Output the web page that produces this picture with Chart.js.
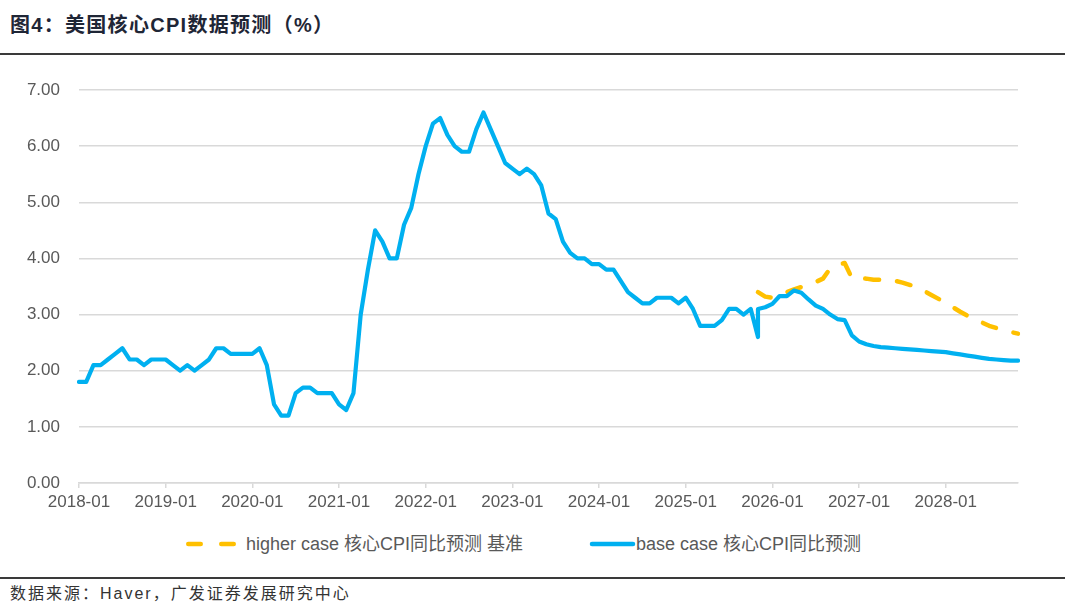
<!DOCTYPE html>
<html>
<head>
<meta charset="utf-8">
<script src="https://cdn.jsdelivr.net/npm/chart.js@4.4.1/dist/chart.umd.min.js"></script>
<style>
  html, body { margin: 0; padding: 0; background: #ffffff; }
  body { width: 1080px; height: 615px; position: relative; overflow: hidden;
         font-family: 'Liberation Sans', Arial, 'Noto Sans CJK SC', sans-serif; }
  #title { position: absolute; left: 10px; top: 13px; font-size: 20px; line-height: 24px; font-weight: bold;
           color: #1f2636; letter-spacing: 1.3px; white-space: nowrap; }
  .rule { position: absolute; left: 0; width: 1065px; height: 1.5px; background: #3a3a3a; }
  #chartBox { position: absolute; left: 0; top: 60px; width: 1080px; height: 460px; }
  .legTxt { position: absolute; top: 535px; font-size: 18px; line-height: 18px; color: #595959; white-space: nowrap; }
  .legSvg { position: absolute; top: 536px; }
  #source { position: absolute; left: 10px; top: 585px; font-size: 16px; line-height: 18px; color: #333333;
            letter-spacing: 2px; white-space: nowrap; }
</style>
</head>
<body>
<div id="title">图4：美国核心CPI数据预测（%）</div>
<div class="rule" style="top:53px"></div>
<div id="chartBox"><canvas id="c"></canvas></div>

<svg class="legSvg" style="left:184px" width="60" height="16">
  <line x1="4.25" y1="8" x2="49.75" y2="8" stroke="#FFC000" stroke-width="4.5" stroke-linecap="round" stroke-dasharray="12.5 20.5"/>
</svg>
<div class="legTxt" style="left:246px">higher case 核心CPI同比预测 基准</div>
<svg class="legSvg" style="left:586px" width="54" height="16">
  <line x1="6" y1="8" x2="47" y2="8" stroke="#00B0F0" stroke-width="4.5" stroke-linecap="round"/>
</svg>
<div class="legTxt" style="left:636px">base case 核心CPI同比预测</div>

<div class="rule" style="top:577px"></div>
<div id="source">数据来源：Haver，广发证券发展研究中心</div>

<script>
// ---- categories (monthly) ----
const months = [
  '2018-01','2018-02','2018-03','2018-04','2018-05','2018-06','2018-07','2018-08','2018-09','2018-10','2018-11','2018-12',
  '2019-01','2019-02','2019-03','2019-04','2019-05','2019-06','2019-07','2019-08','2019-09','2019-10','2019-11','2019-12',
  '2020-01','2020-02','2020-03','2020-04','2020-05','2020-06','2020-07','2020-08','2020-09','2020-10','2020-11','2020-12',
  '2021-01','2021-02','2021-03','2021-04','2021-05','2021-06','2021-07','2021-08','2021-09','2021-10','2021-11','2021-12',
  '2022-01','2022-02','2022-03','2022-04','2022-05','2022-06','2022-07','2022-08','2022-09','2022-10','2022-11','2022-12',
  '2023-01','2023-02','2023-03','2023-04','2023-05','2023-06','2023-07','2023-08','2023-09','2023-10','2023-11','2023-12',
  '2024-01','2024-02','2024-03','2024-04','2024-05','2024-06','2024-07','2024-08','2024-09','2024-10','2024-11','2024-12',
  '2025-01','2025-02','2025-03','2025-04','2025-05','2025-06','2025-07','2025-08','2025-09','2025-10','2025-11','2025-12',
  '2026-01','2026-02','2026-03','2026-04','2026-05','2026-06','2026-07','2026-08','2026-09','2026-10','2026-11','2026-12',
  '2027-01','2027-02','2027-03','2027-04','2027-05','2027-06','2027-07','2027-08','2027-09','2027-10','2027-11','2027-12',
  '2028-01','2028-02','2028-03','2028-04','2028-05','2028-06','2028-07','2028-08','2028-09','2028-10','2028-11'
];

// ---- base case: actual history (2018-01 .. 2025-11) ----
const baseHistory = [
  1.8, 1.8, 2.1, 2.1, 2.2, 2.3, 2.4, 2.2, 2.2, 2.1, 2.2, 2.2,
  2.2, 2.1, 2.0, 2.1, 2.0, 2.1, 2.2, 2.4, 2.4, 2.3, 2.3, 2.3,
  2.3, 2.4, 2.1, 1.4, 1.2, 1.2, 1.6, 1.7, 1.7, 1.6, 1.6, 1.6,
  1.4, 1.3, 1.6, 3.0, 3.8, 4.5, 4.3, 4.0, 4.0, 4.6, 4.9, 5.5,
  6.0, 6.4, 6.5, 6.2, 6.0, 5.9, 5.9, 6.3, 6.6, 6.3, 6.0, 5.7,
  5.6, 5.5, 5.6, 5.5, 5.3, 4.8, 4.7, 4.3, 4.1, 4.0, 4.0, 3.9,
  3.9, 3.8, 3.8, 3.6, 3.4, 3.3, 3.2, 3.2, 3.3, 3.3, 3.3, 3.2,
  3.3, 3.1, 2.8, 2.8, 2.8, 2.9, 3.1, 3.1, 3.0, 3.1, 2.6
];
// ---- forecasts (2025-11 .. 2028-11) ----
const forecastStart = '2025-11';
const baseForecast = [
  3.10, 3.13, 3.19, 3.33, 3.33, 3.43, 3.39, 3.27, 3.16, 3.10, 3.00, 2.92, 2.90, 2.63,
  2.52, 2.47, 2.44, 2.42, 2.41, 2.40, 2.39, 2.38, 2.37, 2.36, 2.35, 2.34,
  2.33, 2.31, 2.29, 2.27, 2.25, 2.23, 2.21, 2.20, 2.19, 2.18, 2.18
];
const higherForecast = [
  3.40, 3.32, 3.30, 3.35, 3.40, 3.45, 3.49, 3.54, 3.58, 3.64, 3.82, 3.88, 3.92, 3.65,
  3.65, 3.64, 3.62, 3.62, 3.62, 3.60, 3.57, 3.53, 3.49, 3.42, 3.35, 3.28,
  3.21, 3.13, 3.05, 2.98, 2.92, 2.86, 2.80, 2.76, 2.72, 2.69, 2.66
];
const yTicks = [0, 1, 2, 3, 4, 5, 6, 7];
const seriesNames = ['base case 核心CPI同比预测', 'higher case 核心CPI同比预测 基准'];

const fStart = months.indexOf(forecastStart);
const baseData = baseHistory.map((v, i) => ({ x: months[i], y: v }))
  .concat(baseForecast.map((v, k) => ({ x: months[fStart + k], y: v })));
const higherData = higherForecast.map((v, k) => ({ x: months[fStart + k], y: v }));

const FONT = "'Liberation Sans', Arial, 'Noto Sans CJK SC', sans-serif";
const GRID = '#d9d9d9';
const TXT = '#595959';

new Chart(document.getElementById('c'), {
  type: 'line',
  data: {
    labels: months,
    datasets: [
      { label: seriesNames[0], data: baseData, borderColor: '#00B0F0', backgroundColor: '#00B0F0',
        borderWidth: 4.2, pointRadius: 0, tension: 0, borderJoinStyle: 'round', borderCapStyle: 'round' },
      { label: seriesNames[1], data: higherData, borderColor: '#FFC000', backgroundColor: '#FFC000',
        borderWidth: 4.5, pointRadius: 0, tension: 0, borderDash: [14, 18], borderCapStyle: 'round',
        borderJoinStyle: 'round' }
    ]
  },
  options: {
    responsive: true,
    maintainAspectRatio: false,
    animation: false,
    layout: { padding: { top: 30, right: 62, left: 0, bottom: 0 } },
    plugins: { legend: { display: false }, tooltip: { enabled: false } },
    scales: {
      x: {
        type: 'category',
        offset: false,
        grid: { drawOnChartArea: false, drawTicks: true, tickLength: 5, color: GRID, lineWidth: 1.5 },
        border: { display: true, color: GRID, width: 1.5 },
        ticks: {
          autoSkip: false, maxRotation: 0, minRotation: 0, padding: 4, color: TXT,
          font: { family: FONT, size: 17 },
          callback: function (v, i) { return (i % 12 === 0) ? months[i] : null; }
        },
        afterFit: function (s) { s.height = 37; }
      },
      y: {
        min: yTicks[0], max: yTicks[yTicks.length - 1],
        grid: { color: GRID, lineWidth: 1.5, drawTicks: false },
        border: { display: false },
        ticks: { stepSize: 1, padding: 19, color: TXT, font: { family: FONT, size: 17 },
                 callback: function (v) { return Number(v).toFixed(2); } },
        afterFit: function (s) { s.width = 79; }
      }
    }
  }
});
</script>
</body>
</html>
